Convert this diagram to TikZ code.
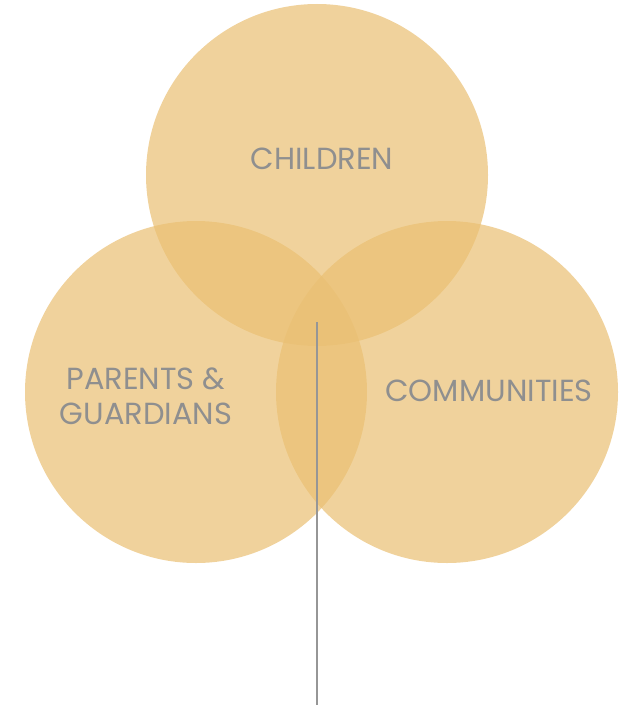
\documentclass[tikz,border=0pt]{standalone}
\usepackage{fontspec}
\setmainfont{Poppins}
\definecolor{venn}{RGB}{234,192,116}
\definecolor{txt}{RGB}{143,143,143}
\definecolor{stem}{RGB}{150,150,150}
\tikzset{
  circ/.style={circle, fill=venn, fill opacity=0.71, minimum size=342pt, inner sep=0pt},
  lbl/.style={text=txt, font=\fontsize{30.5}{35}\selectfont, align=center},
}
\begin{document}
\begin{tikzpicture}[x=1pt,y=-1pt]
\useasboundingbox (0,0) rectangle (625,706);
\node[circ] (top) at (317,175) {};
\node[circ] (left) at (196,392) {};
\node[circ] (right) at (447,392) {};
\node[lbl] (t1) at (322,159) {CHILDREN};
\node[lbl] (t2) at (146,396) {PARENTS \&\\GUARDIANS};
\node[lbl] (t3) at (489,391) {COMMUNITIES};
\coordinate (s1) at (317,322);
\coordinate (s2) at (317,705);
\draw[stem, line width=2pt] (s1) -- (s2);
\end{tikzpicture}
\end{document}
